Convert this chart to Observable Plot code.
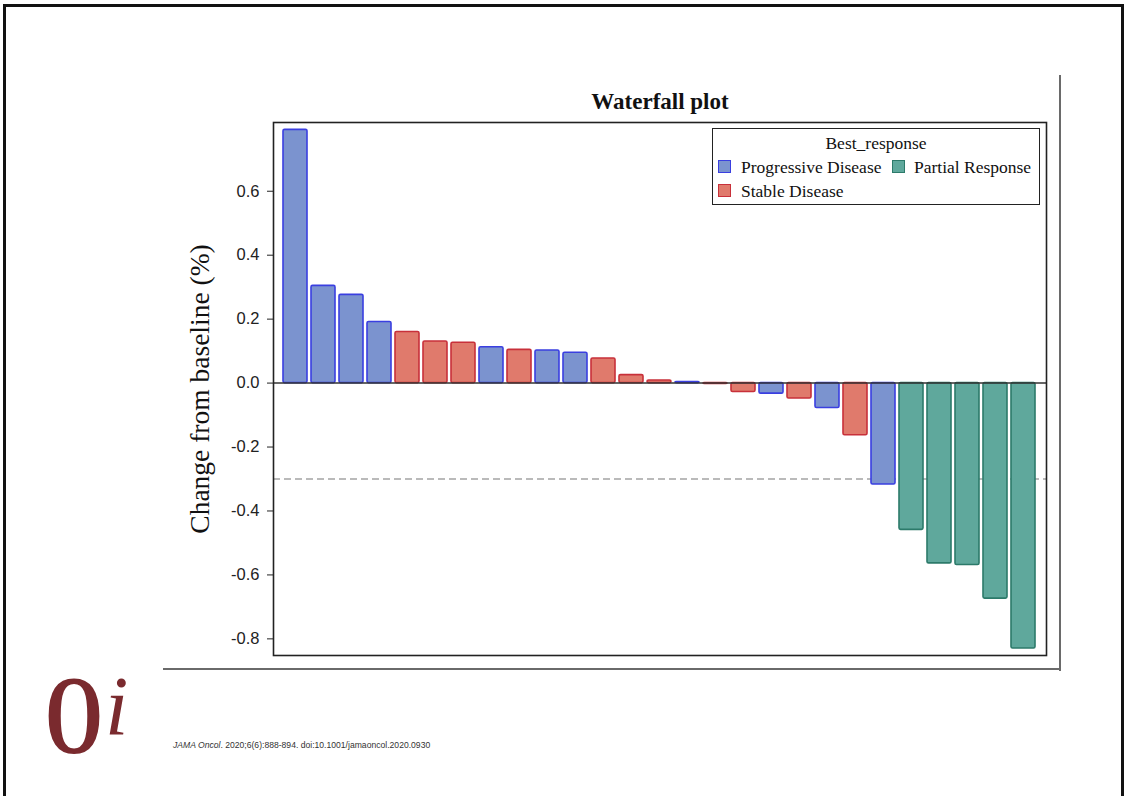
<!DOCTYPE html>
<html>
<head>
<meta charset="utf-8">
<script src="https://cdn.jsdelivr.net/npm/d3@7"></script>
<script src="https://cdn.jsdelivr.net/npm/@observablehq/plot@0.6"></script>
<style>
  html, body { margin: 0; padding: 0; background: #fff; }
  #page { position: relative; width: 1125px; height: 796px; overflow: hidden; background: #fff; }
  #chart { position: absolute; left: 0; top: 0; }
  #slide { position: absolute; left: 3px; top: 4px; width: 1115px; height: 900px; border: 3px solid #111; }
  #imgR { position: absolute; left: 1059px; top: 75px; width: 2px; height: 596px; background: #6a6a6a; }
  #imgB { position: absolute; left: 163px; top: 668px; width: 898px; height: 2px; background: #6a6a6a; }
  #legend { position: absolute; left: 712px; top: 128px; width: 326px; height: 75px; border: 1.5px solid #222; background: #fff;
            font-family: "Liberation Serif", "Times New Roman", serif; font-size: 17.5px; color: #111; }
  #legend .ttl { position: absolute; left: 0; width: 100%; top: 4px; text-align: center; line-height: 20px; }
  #legend .sw { position: absolute; width: 11px; height: 11px; border: 1.5px solid; }
  #legend .lb { position: absolute; line-height: 20px; white-space: nowrap; }
  #logoO { position: absolute; left: 45px; top: 650px; font-family: "Liberation Serif", "Times New Roman", serif; font-weight: bold; font-size: 113px; line-height: 130px; color: #7a2a2e; transform: scaleX(0.66); transform-origin: left top; }
  #logoI { position: absolute; left: 105px; top: 658px; font-family: "Liberation Serif", "Times New Roman", serif; font-style: italic; font-size: 84px; line-height: 98px; color: #7a2a2e; }
  #cite { position: absolute; left: 173px; top: 740px; font-family: "Liberation Sans", Arial, sans-serif; font-size: 8.6px; color: #333; white-space: nowrap; }
</style>
</head>
<body>
<div id="page">
  <div id="slide"></div>
  <div id="imgR"></div>
  <div id="imgB"></div>
  <div id="chart"></div>
  <div id="legend"></div>
  <div id="logoO">O</div>
  <div id="logoI">i</div>
  <div id="cite"><i>JAMA Oncol</i>. 2020;6(6):888-894. doi:10.1001/jamaoncol.2020.0930</div>
</div>
<script>
// ---- data ----
const patients = ["1","2","3","4","5","6","7","8","9","10","11","12","13","14","15","16","17","18","19","20","21","22","23","24","25","26","27"];
const changes = [0.792, 0.304, 0.276, 0.191, 0.160, 0.130, 0.126, 0.112, 0.104, 0.102, 0.095, 0.077, 0.025, 0.008, 0.003, -0.003, -0.028, -0.033, -0.048, -0.078, -0.163, -0.317, -0.459, -0.564, -0.569, -0.674, -0.830];
const responses = ["Progressive Disease","Progressive Disease","Progressive Disease","Progressive Disease","Stable Disease","Stable Disease","Stable Disease","Progressive Disease","Stable Disease","Progressive Disease","Progressive Disease","Stable Disease","Stable Disease","Stable Disease","Progressive Disease","Stable Disease","Stable Disease","Progressive Disease","Stable Disease","Progressive Disease","Stable Disease","Progressive Disease","Partial Response","Partial Response","Partial Response","Partial Response","Partial Response"];
const responseCategories = ["Progressive Disease", "Partial Response", "Stable Disease"];
const fillColors = ["#7b93cf", "#5fa89c", "#e07a6c"];
const strokeColors = ["#3a3fe0", "#2c7a6a", "#c8303a"];
const yTicks = [-0.8, -0.6, -0.4, -0.2, 0.0, 0.2, 0.4, 0.6];
const threshold = -0.3;
const titleText = "Waterfall plot";
const yLabel = "Change from baseline (%)";
const legendTitle = "Best_response";

const data = patients.map((p, i) => ({id: p, change: changes[i], response: responses[i]}));
const fillOf = r => fillColors[responseCategories.indexOf(r)];
const strokeOf = r => strokeColors[responseCategories.indexOf(r)];

const chart = Plot.plot({
  width: 1125,
  height: 796,
  marginLeft: 273,
  marginRight: 79,
  marginTop: 122,
  marginBottom: 141,
  style: {fontFamily: "'Liberation Sans', Arial, sans-serif", fontSize: "16.5px", color: "#222", background: "transparent"},
  x: {domain: patients, axis: null, paddingInner: 0.14, paddingOuter: 0.34},
  y: {domain: [-0.852, 0.815], ticks: yTicks, tickFormat: d => d.toFixed(1), tickSize: 6, tickPadding: 8, label: null},
  color: {type: "identity"},
  marks: [
    Plot.ruleY([threshold], {stroke: "#777", strokeWidth: 1.2, strokeDasharray: "7,4"}),
    Plot.barY(data, {x: "id", y: "change", fill: d => fillOf(d.response), stroke: d => strokeOf(d.response), strokeWidth: 1.6, rx: 1.5}),
    Plot.ruleY([0], {stroke: "#333", strokeWidth: 1.5}),
    Plot.frame({stroke: "#222", strokeWidth: 1.6}),
    Plot.text([titleText], {frameAnchor: "top", lineAnchor: "middle", dy: -21, fontSize: 23, fontWeight: "bold", fontFamily: "'Liberation Serif', 'Times New Roman', serif", fill: "#111"}),
    Plot.text([yLabel], {frameAnchor: "left", textAnchor: "middle", lineAnchor: "middle", dx: -73, rotate: -90, fontSize: 27.5, fontFamily: "'Liberation Serif', 'Times New Roman', serif", fill: "#111"})
  ]
});
document.getElementById("chart").appendChild(chart);

// ---- legend ----
const legend = document.getElementById("legend");
const ttl = document.createElement("div");
ttl.className = "ttl"; ttl.textContent = legendTitle; legend.appendChild(ttl);
const legendPos = [[5, 28, 31], [179, 201, 31], [5, 28, 55]];
responseCategories.forEach((c, i) => {
  const [sx, tx, ty] = legendPos[i];
  const sw = document.createElement("div");
  sw.className = "sw";
  sw.style.left = sx + "px"; sw.style.top = ty + "px";
  sw.style.background = fillColors[i]; sw.style.borderColor = strokeColors[i];
  legend.appendChild(sw);
  const lb = document.createElement("div");
  lb.className = "lb";
  lb.style.left = tx + "px"; lb.style.top = (ty - 3) + "px";
  lb.textContent = c;
  legend.appendChild(lb);
});
</script>
</body>
</html>
